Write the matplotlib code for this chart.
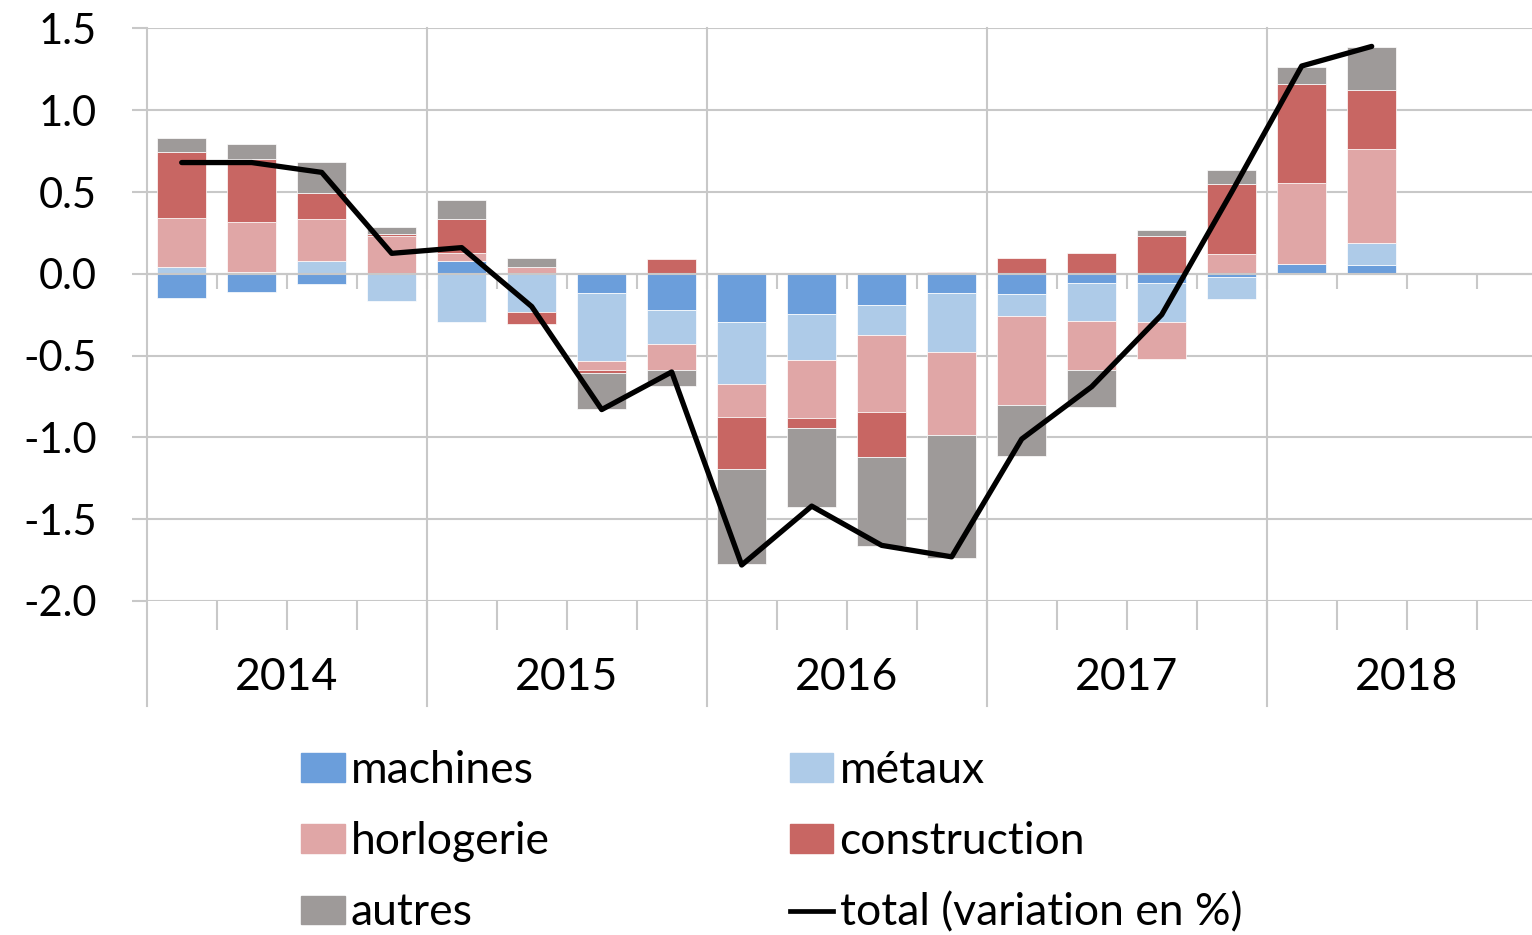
import numpy as np
import matplotlib
matplotlib.use("Agg")
from matplotlib import pyplot as plt
from matplotlib.patches import Patch
from matplotlib.lines import Line2D

plt.rcParams['font.family'] = ['Lato', 'DejaVu Sans']
plt.rcParams['axes.unicode_minus'] = False

years = ['2014', '2015', '2016', '2017', '2018']

# contributions par branche, 2014T1 .. 2018T2
machines = [-0.147, -0.11, -0.061, 0.0, 0.077, 0.0, -0.118, -0.224, -0.297, -0.248,
            -0.193, -0.12, -0.124, -0.059, -0.059, -0.02, 0.059, 0.051]
metaux = [0.04, 0.014, 0.079, -0.165, -0.297, -0.232, -0.415, -0.208, -0.379, -0.277,
          -0.181, -0.358, -0.134, -0.23, -0.238, -0.132, 0.0, 0.136]
horlogerie = [0.30, 0.30, 0.253, 0.228, 0.049, 0.04, -0.057, -0.159, -0.2, -0.358,
              -0.473, -0.509, -0.547, -0.299, -0.224, 0.12, 0.494, 0.573]
construction = [0.403, 0.385, 0.161, 0.018, 0.206, -0.075, -0.018, 0.088, -0.32, -0.057,
                -0.271, 0.012, 0.098, 0.126, 0.23, 0.431, 0.608, 0.362]
autres = [0.086, 0.094, 0.189, 0.039, 0.122, 0.057, -0.218, -0.094, -0.58, -0.487,
          -0.546, -0.752, -0.307, -0.226, 0.037, 0.083, 0.106, 0.266]
total = [0.68, 0.68, 0.62, 0.125, 0.16, -0.20, -0.83, -0.60, -1.78, -1.42,
         -1.66, -1.73, -1.01, -0.69, -0.25, 0.50, 1.27, 1.39]

series = [('machines', machines, '#6b9edb'),
          ('métaux', metaux, '#aecbe8'),
          ('horlogerie', horlogerie, '#e0a6a6'),
          ('construction', construction, '#c86663'),
          ('autres', autres, '#9e9a99')]

grid_c = '#c8c8c8'
fig = plt.figure(figsize=(15.32, 9.35), dpi=100)
ax = fig.add_axes([146.7 / 1532, 1 - 601 / 935, 1400 / 1532, 572.6 / 935])

x = np.arange(len(total))
pos = np.zeros(len(x))
neg = np.zeros(len(x))
for name, vals, col in series:
    v = np.array(vals)
    bottom = np.where(v >= 0, pos, neg)
    ax.bar(x, v, width=0.7, bottom=bottom, color=col, edgecolor='white',
           linewidth=0.5, zorder=2)
    pos += np.where(v >= 0, v, 0)
    neg += np.where(v < 0, v, 0)

ax.plot(x, total, color='black', lw=3.8, solid_capstyle='round',
        solid_joinstyle='round', zorder=4)

ax.set_xlim(-0.5, 19.5)
ax.set_ylim(-2.0, 1.5)
ax.set_yticks(np.arange(-2.0, 1.51, 0.5))
ax.yaxis.set_major_formatter(matplotlib.ticker.FormatStrFormatter('%.1f'))
ax.grid(axis='y', color=grid_c, lw=1.5)
ax.set_axisbelow(True)
for s in ax.spines.values():
    s.set_visible(False)

ax.tick_params(axis='y', length=10.8, width=1.5, color=grid_c, pad=25,
               labelsize=30, labelcolor='black')
qb = np.arange(0.5, 19.5, 1.0)
ax.set_xticks(qb)
ax.set_xticklabels([])
ax.tick_params(axis='x', length=20.9, width=1.5, color=grid_c)

# axe horizontal à zéro avec graduations trimestrielles
ax.axhline(0, color=grid_c, lw=1.5, zorder=3)
ax.vlines(qb, -15 / 163.7, 0, color=grid_c, lw=1.5, zorder=3)

# séparateurs annuels prolongés sous le graphique
for b in np.arange(-0.5, 19.5, 4):
    ax.axvline(b, ymin=-105 / 572.6, ymax=1, color=grid_c, lw=1.5,
               clip_on=False, zorder=1)

for i, yr in enumerate(years):
    ax.text(1.5 + 4 * i, -76 / 572.6, yr, transform=ax.get_xaxis_transform(),
            ha='center', va='center', fontsize=32, color='black')

handles = [Patch(color=series[0][2]), Patch(color=series[2][2]), Patch(color=series[4][2]),
           Patch(color=series[1][2]), Patch(color=series[3][2]),
           Line2D([], [], color='black', lw=3.4)]
labels = ['machines', 'horlogerie', 'autres', 'métaux', 'construction',
          'total (variation en %)']
fig.legend(handles, labels, loc='upper left', bbox_to_anchor=(301 / 1532, 1 - 750 / 935),
           ncol=2, frameon=False, fontsize=32, borderpad=0, borderaxespad=0,
           handlelength=0.98, handleheight=0.61, handletextpad=0.14,
           labelspacing=0.68, columnspacing=5.4)

fig.savefig('out.png', dpi=100)
